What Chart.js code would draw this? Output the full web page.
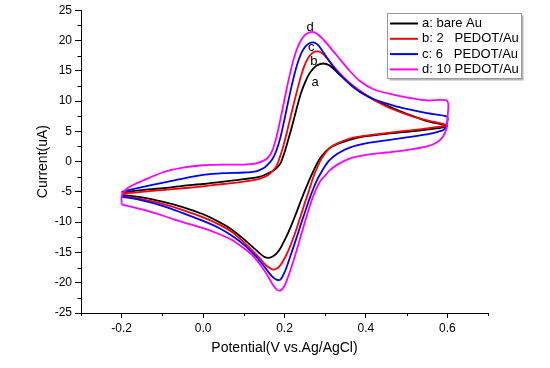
<!DOCTYPE html>
<html><head><meta charset="utf-8">
<script src="https://cdn.jsdelivr.net/npm/chart.js@4.4.0/dist/chart.umd.min.js"></script>
<style>html,body{margin:0;padding:0;background:#fff;}canvas{display:block;}</style>
</head><body>
<canvas id="c" width="550" height="368"></canvas>
<script>
// ---- data (potential V, current uA) ----
const seriesLabels = ['a: bare Au', 'b: 2   PEDOT/Au', 'c: 6   PEDOT/Au', 'd: 10 PEDOT/Au'];
const seriesColors = ['#000000', '#ff0000', '#0000ff', '#ff00ff'];

const curveA = [[-0.2,-5.1],[-0.15,-4.7],[-0.1,-4.4],[-0.05,-4.0],[0.0,-3.7],[0.05,-3.3],[0.1,-2.9],[0.14,-2.5],[0.17,-1.6],[0.18,-1.1],[0.19,-0.3],[0.2,1.5],[0.21,3.8],[0.22,6.2],[0.23,8.8],[0.24,11.2],[0.25,13.0],[0.26,14.4],[0.27,15.3],[0.28,15.9],[0.295,16.2],[0.31,15.9],[0.33,14.7],[0.36,12.9],[0.39,11.4],[0.42,10.2],[0.47,8.7],[0.5,7.9],[0.55,6.7],[0.6,5.8],
 [0.55,5.3],[0.5,4.9],[0.45,4.6],[0.4,4.2],[0.36,3.6],[0.33,2.9],[0.31,2.2],[0.29,0.8],[0.28,-0.3],[0.27,-1.7],[0.26,-3.2],[0.25,-4.8],[0.24,-6.5],[0.23,-8.3],[0.22,-10.0],[0.21,-11.6],[0.2,-13.0],[0.19,-14.3],[0.18,-15.2],[0.17,-15.7],[0.16,-15.9],[0.15,-15.7],[0.14,-15.2],[0.12,-14.0],[0.1,-12.8],[0.07,-11.2],[0.04,-10.0],[0.0,-8.7],[-0.05,-7.5],[-0.1,-6.6],[-0.15,-5.9],[-0.2,-5.5]];

const curveB = [[-0.2,-5.3],[-0.15,-5.0],[-0.1,-4.7],[-0.05,-4.4],[0.0,-4.1],[0.05,-3.7],[0.1,-3.3],[0.14,-2.8],[0.16,-2.2],[0.17,-1.6],[0.18,-0.8],[0.19,1.0],[0.2,3.3],[0.21,6.0],[0.22,8.8],[0.23,11.5],[0.24,14.0],[0.25,16.0],[0.26,17.3],[0.27,18.0],[0.28,18.2],[0.29,18.0],[0.3,17.4],[0.33,15.0],[0.36,13.0],[0.4,11.0],[0.45,9.1],[0.5,7.8],[0.55,6.8],[0.6,6.0],
 [0.55,5.5],[0.5,5.1],[0.45,4.7],[0.4,4.3],[0.36,3.8],[0.33,3.0],[0.31,2.2],[0.29,0.4],[0.28,-1.0],[0.27,-2.7],[0.26,-4.8],[0.25,-6.8],[0.24,-8.9],[0.23,-11.0],[0.22,-12.9],[0.21,-14.6],[0.2,-16.0],[0.19,-17.1],[0.18,-17.7],[0.17,-17.8],[0.16,-17.4],[0.15,-16.8],[0.14,-16.0],[0.12,-14.6],[0.1,-13.3],[0.07,-11.6],[0.04,-10.4],[0.0,-9.2],[-0.05,-8.0],[-0.1,-7.0],[-0.15,-6.2],[-0.2,-5.7]];

const curveC = [[-0.2,-5.0],[-0.17,-4.5],[-0.15,-4.2],[-0.1,-3.5],[-0.05,-2.8],[0.0,-2.2],[0.05,-1.9],[0.1,-1.8],[0.13,-1.6],[0.15,-1.0],[0.16,-0.4],[0.17,0.4],[0.18,1.8],[0.19,4.0],[0.2,7.0],[0.21,10.2],[0.22,13.2],[0.23,15.8],[0.24,17.7],[0.25,18.9],[0.26,19.5],[0.27,19.7],[0.28,19.4],[0.29,18.6],[0.31,16.6],[0.33,14.8],[0.36,12.8],[0.385,11.5],[0.42,10.3],[0.47,9.2],[0.5,8.7],[0.55,8.0],[0.6,7.4],
 [0.598,6.0],[0.59,5.2],[0.57,4.8],[0.55,4.5],[0.5,4.0],[0.45,3.5],[0.4,3.0],[0.36,2.3],[0.33,1.3],[0.31,0.2],[0.3,-0.7],[0.29,-1.8],[0.28,-3.0],[0.27,-4.6],[0.26,-6.4],[0.25,-8.4],[0.24,-10.4],[0.23,-12.5],[0.22,-14.5],[0.21,-16.5],[0.2,-18.3],[0.19,-19.5],[0.18,-19.5],[0.17,-19.0],[0.16,-18.2],[0.15,-17.3],[0.13,-15.7],[0.1,-13.7],[0.07,-12.2],[0.04,-11.0],[0.0,-9.8],[-0.05,-8.5],[-0.1,-7.3],[-0.15,-6.4],[-0.2,-5.8]];

const curveD = [[-0.2,-7.1],[-0.2,-5.6],[-0.19,-4.6],[-0.17,-3.8],[-0.15,-3.2],[-0.1,-1.8],[-0.05,-1.0],[0.0,-0.6],[0.05,-0.5],[0.1,-0.5],[0.13,-0.3],[0.15,0.2],[0.16,0.7],[0.17,1.8],[0.18,4.0],[0.19,7.0],[0.2,10.3],[0.21,13.5],[0.22,16.3],[0.23,18.5],[0.24,20.0],[0.25,20.9],[0.26,21.3],[0.27,21.4],[0.28,21.1],[0.29,20.5],[0.3,19.8],[0.33,17.4],[0.36,15.0],[0.385,13.3],[0.42,11.9],[0.47,11.0],[0.5,10.6],[0.55,10.1],[0.6,10.0],
 [0.6,7.0],[0.598,5.5],[0.59,4.2],[0.575,3.2],[0.55,2.5],[0.5,1.9],[0.45,1.5],[0.4,1.1],[0.36,0.5],[0.33,-0.5],[0.31,-1.5],[0.3,-2.3],[0.29,-3.0],[0.28,-4.2],[0.27,-5.8],[0.26,-7.8],[0.25,-10.0],[0.24,-12.3],[0.23,-14.6],[0.22,-16.8],[0.21,-18.8],[0.2,-20.5],[0.19,-21.3],[0.18,-21.1],[0.17,-20.2],[0.16,-19.0],[0.14,-17.0],[0.12,-15.4],[0.1,-14.3],[0.07,-12.9],[0.04,-12.0],[0.0,-11.0],[-0.05,-10.0],[-0.1,-8.9],[-0.15,-7.9],[-0.2,-7.1]];

const xTicks = [-0.2, 0.0, 0.2, 0.4, 0.6];
const xMinorTicks = [-0.3, -0.1, 0.1, 0.3, 0.5, 0.7];
const yTicks = [-25, -20, -15, -10, -5, 0, 5, 10, 15, 20, 25];
const yMinorTicks = [-22.5, -17.5, -12.5, -7.5, -2.5, 2.5, 7.5, 12.5, 17.5, 22.5];
const peakLetters = ['d', 'c', 'b', 'a'];
const peakLetterX = [0.263, 0.266, 0.272, 0.275];
const peakLetterY = [22.2, 18.8, 16.5, 13.1];

// ---- chart ----
const FONT = '"Liberation Sans", Arial, sans-serif';
Chart.defaults.font.family = FONT;
Chart.defaults.color = '#000';

const curves = [curveA, curveB, curveC, curveD];
const datasets = curves.map((c, i) => ({
  label: seriesLabels[i],
  data: c.map(p => ({x: p[0], y: p[1]})),
  showLine: true,
  borderColor: seriesColors[i],
  backgroundColor: seriesColors[i],
  borderWidth: 1.8,
  pointRadius: 0,
  tension: 0.25,
  fill: false,
  order: 3 - i
}));

const decorations = {
  id: 'decorations',
  afterDraw(chart) {
    const {ctx} = chart;
    const x = chart.scales.x, y = chart.scales.y;
    ctx.save();
    // minor ticks
    ctx.strokeStyle = '#000';
    ctx.lineWidth = 1;
    ctx.beginPath();
    xMinorTicks.forEach(v => {
      const px = Math.round(x.getPixelForValue(v)) + 0.5;
      ctx.moveTo(px, y.bottom);
      ctx.lineTo(px, y.bottom + 3);
    });
    yMinorTicks.forEach(v => {
      const py = Math.round(y.getPixelForValue(v)) + 0.5;
      ctx.moveTo(x.left, py);
      ctx.lineTo(x.left - 3.5, py);
    });
    ctx.stroke();
    // peak letters
    ctx.font = '13px ' + FONT;
    ctx.fillStyle = '#000';
    ctx.textAlign = 'center';
    ctx.textBaseline = 'middle';
    peakLetters.forEach((t, i) => {
      ctx.fillText(t, x.getPixelForValue(peakLetterX[i]), y.getPixelForValue(peakLetterY[i]));
    });
    // legend box
    const bx = 387.5, by = 13.5, bw = 134, bh = 65;
    ctx.fillStyle = '#b4b4b4';
    ctx.fillRect(bx + 2, by + 2, bw, bh);
    ctx.fillStyle = '#fff';
    ctx.fillRect(bx, by, bw, bh);
    ctx.strokeStyle = '#999';
    ctx.strokeRect(bx, by, bw, bh);
    ctx.textAlign = 'left';
    chart.data.datasets.forEach((ds, i) => {
      const ry = 23.5 + i * 15.3;
      ctx.strokeStyle = ds.borderColor;
      ctx.lineWidth = 2;
      ctx.beginPath();
      ctx.moveTo(390, ry);
      ctx.lineTo(418, ry);
      ctx.stroke();
      ctx.fillStyle = '#000';
      ctx.fillText(ds.label, 422, ry);
    });
    ctx.restore();
  }
};

new Chart(document.getElementById('c'), {
  type: 'scatter',
  data: {datasets},
  options: {
    responsive: false,
    animation: false,
    devicePixelRatio: 1,
    layout: {padding: {left: 0, right: 62, top: 10, bottom: 0}},
    plugins: {legend: {display: false}, tooltip: {enabled: false}},
    scales: {
      x: {
        type: 'linear', min: -0.3, max: 0.7,
        afterBuildTicks: s => { s.ticks = xTicks.map(v => ({value: v})); },
        afterFit: s => { s.height = 55; },
        ticks: {callback: v => v.toFixed(1), font: {size: 12}, color: '#000', padding: 3, maxRotation: 0, autoSkip: false},
        grid: {display: true, drawOnChartArea: false, drawTicks: true, tickLength: 5, color: '#000', tickColor: '#000'},
        border: {display: true, color: '#000', width: 1},
        title: {display: true, text: 'Potential(V vs.Ag/AgCl)', font: {size: 14}, color: '#000', padding: {top: 0, bottom: 11}}
      },
      y: {
        type: 'linear', min: -25, max: 25,
        afterBuildTicks: s => { s.ticks = yTicks.map(v => ({value: v})); },
        afterFit: s => { s.width = 81; },
        ticks: {callback: v => String(v), font: {size: 12}, color: '#000', padding: 3, autoSkip: false},
        grid: {display: true, drawOnChartArea: false, drawTicks: true, tickLength: 6, color: '#000', tickColor: '#000'},
        border: {display: true, color: '#000', width: 1},
        title: {display: true, text: 'Current(uA)', font: {size: 14}, color: '#000', padding: {top: 35, bottom: 0}}
      }
    }
  },
  plugins: [decorations]
});
</script>
</body></html>
